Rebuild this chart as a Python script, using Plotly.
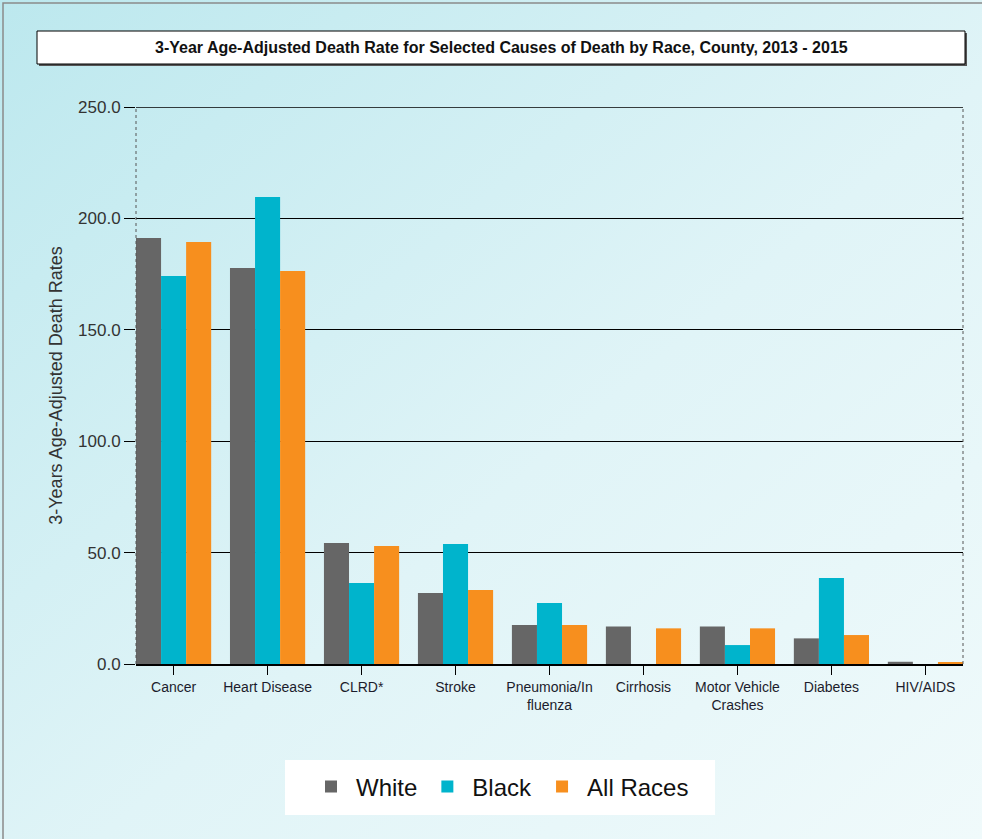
import base64
import plotly.graph_objects as go

categories = ["Cancer", "Heart Disease", "CLRD*", "Stroke", "Pneumonia/In<br>fluenza",
              "Cirrhosis", "Motor Vehicle<br>Crashes", "Diabetes", "HIV/AIDS"]
white = [191.2, 177.7, 54.3, 31.9, 17.5, 16.8, 16.8, 11.5, 1.0]
black = [174.1, 209.6, 36.4, 53.9, 27.4, 0.0, 8.5, 38.6, 0.0]
all_races = [189.4, 176.4, 53.0, 33.2, 17.5, 16.0, 16.0, 13.0, 0.9]
y_ticks = [0, 50, 100, 150, 200, 250]
y_ticklabels = ["0.0", "50.0", "100.0", "150.0", "200.0", "250.0"]

FW, FH = 982, 839
L, R, T, B = 136, 19, 107, 175
PW, PH = FW - L - R, FH - T - B

def px(x):
    return (x - L) / PW

def py(y):
    return (FH - B - y) / PH

NARROW = "Liberation Sans Narrow, Arial Narrow, Liberation Sans, sans-serif"
SANS = "Liberation Sans, Arial, sans-serif"

svg = ('<svg xmlns="http://www.w3.org/2000/svg" width="982" height="839">'
       '<defs><linearGradient id="g" x1="0" y1="0" x2="1" y2="1">'
       '<stop offset="0" stop-color="#bce8ee"/><stop offset="0.55" stop-color="#e0f4f7"/>'
       '<stop offset="1" stop-color="#f0fafb"/></linearGradient></defs>'
       '<rect width="982" height="839" fill="url(#g)"/></svg>')
bg_src = "data:image/svg+xml;base64," + base64.b64encode(svg.encode()).decode()

fig = go.Figure()
for name, vals, col in [("White", white, "#666666"), ("Black", black, "#00b4cc"),
                        ("All Races", all_races, "#f78f1e")]:
    fig.add_trace(go.Bar(x=categories, y=vals, name=name,
                         marker=dict(color=col, line=dict(width=0))))

fig.update_layout(
    width=FW, height=FH,
    margin=dict(l=L, r=R, t=T, b=B, autoexpand=False),
    barmode="group", bargap=0.2, bargroupgap=0,
    paper_bgcolor="#d8f2f5", plot_bgcolor="white",
    showlegend=True,
    legend=dict(orientation="h", x=px(500), y=py(787), xanchor="center", yanchor="middle",
                bgcolor="white", font=dict(family=SANS, size=24, color="#111"),
                itemwidth=40, traceorder="normal"),
    xaxis=dict(range=[-0.4, 8.4], showgrid=False, showline=True, linecolor="black", linewidth=1.5,
               ticks="outside", ticklen=9, tickcolor="black", tickwidth=1,
               tickfont=dict(family=NARROW, size=14, color="#1c1c2c"), tickangle=0),
    yaxis=dict(range=[0, 250], tickvals=y_ticks, ticktext=y_ticklabels,
               showgrid=True, gridcolor="black", gridwidth=1.2, zeroline=False,
               showline=False, ticks="outside", ticklen=11, tickcolor="black", tickwidth=1.2,
               tickfont=dict(family=NARROW, size=17, color="#333"),
               title=dict(text="3-Years Age-Adjusted Death Rates", standoff=10,
                          font=dict(family=SANS, size=18, color="#333"))),
    images=[dict(source=bg_src, xref="paper", yref="paper", x=px(0), y=py(0),
                 sizex=FW / PW, sizey=FH / PH, xanchor="left", yanchor="top",
                 sizing="stretch", layer="below")],
    shapes=[
        dict(type="rect", xref="paper", yref="paper", x0=px(3), x1=px(990), y0=py(3), y1=py(850),
             line=dict(color="#8a8a8a", width=1.5)),
        dict(type="rect", xref="paper", yref="paper", x0=px(39), x1=px(967), y0=py(33), y1=py(66),
             fillcolor="#555", line=dict(width=0)),
        dict(type="rect", xref="paper", yref="paper", x0=px(37), x1=px(965), y0=py(31), y1=py(64),
             fillcolor="white", line=dict(color="black", width=1)),
        dict(type="rect", xref="paper", yref="paper", x0=px(285), x1=px(715), y0=py(760), y1=py(815),
             fillcolor="white", line=dict(width=0), layer="below"),
        dict(type="line", xref="paper", yref="paper", x0=0, x1=0, y0=0, y1=1,
             line=dict(color="#555", width=1, dash="dot")),
        dict(type="line", xref="paper", yref="paper", x0=1, x1=1, y0=0, y1=1,
             line=dict(color="#555", width=1, dash="dot")),
        dict(type="line", xref="paper", yref="y", x0=0, x1=1, y0=y_ticks[-1], y1=y_ticks[-1],
             line=dict(color="black", width=1.5)),
    ],
    annotations=[
        dict(text="<b>3-Year Age-Adjusted Death Rate for Selected Causes of Death by Race, County, 2013 - 2015</b>",
             xref="paper", yref="paper", x=px(501), y=py(47), xanchor="center", yanchor="middle",
             showarrow=False, font=dict(family=NARROW, size=16, color="#111")),
    ],
)

fig.write_html("out.html")
